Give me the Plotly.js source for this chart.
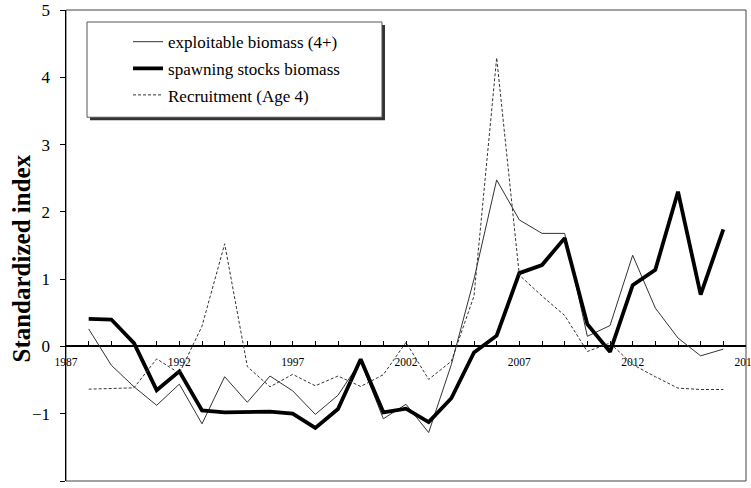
<!DOCTYPE html>
<html>
<head>
<meta charset="utf-8">
<script src="https://cdn.plot.ly/plotly-3.0.1.min.js"></script>
<style>html,body{margin:0;padding:0;background:#fff;overflow:hidden;}#chart{width:751px;height:488px;}</style>
</head>
<body>
<div id="chart"></div>
<script>
const years = [1988,1989,1990,1991,1992,1993,1994,1995,1996,1997,1998,1999,2000,2001,2002,2003,2004,2005,2006,2007,2008,2009,2010,2011,2012,2013,2014,2015,2016];
const exploitable = [0.26,-0.28,-0.6,-0.875,-0.56,-1.15,-0.45,-0.83,-0.44,-0.66,-1.01,-0.725,-0.22,-1.075,-0.86,-1.28,-0.27,1.0,2.475,1.88,1.68,1.68,0.15,0.31,1.355,0.57,0.125,-0.14,-0.04];
const ssb = [0.41,0.40,0.05,-0.65,-0.37,-0.95,-0.98,-0.98,-0.97,-1.0,-1.21,-0.93,-0.19,-0.98,-0.925,-1.125,-0.77,-0.09,0.16,1.09,1.21,1.61,0.33,-0.08,0.91,1.14,2.3,0.77,1.74];
const recruitment = [-0.635,-0.63,-0.615,-0.185,-0.4,0.3,1.525,-0.3,-0.6,-0.415,-0.585,-0.44,-0.595,-0.42,0.06,-0.49,-0.22,0.75,4.29,1.06,0.75,0.46,-0.075,0.05,-0.27,-0.45,-0.62,-0.64,-0.64];
const seriesNames = ['exploitable biomass (4+)','spawning stocks biomass','Recruitment (Age 4)'];
const xTickVals = [1987,1992,1997,2002,2007,2012,2017];
const yTickVals = [-2,-1,0,1,2,3,4,5];
const yTitle = 'Standardized index';

const serif = '"Liberation Serif", "Times New Roman", serif';
const traces = [
  {x: years, y: exploitable, name: seriesNames[0], mode: 'lines', legendgroup: 'a',
   line: {color: '#333', width: 1}},
  {x: years, y: ssb, name: seriesNames[1], mode: 'lines', legendgroup: 'b',
   line: {color: '#000', width: 3.8}},
  {x: years, y: recruitment, name: seriesNames[2], mode: 'lines', legendgroup: 'c',
   line: {color: '#333', width: 1, dash: '3px,2px'}}
];
const layout = {
  width: 751, height: 488,
  margin: {l: 66, r: 5, t: 10, b: 7},
  paper_bgcolor: '#fff', plot_bgcolor: '#fff',
  showlegend: true,
  legend: {x: 0.0912, y: 0.970, xanchor: 'left', yanchor: 'top', bgcolor: 'rgba(0,0,0,0)',
           borderwidth: 0, tracegroupgap: 1.5, font: {family: serif, size: 17, color: '#000'}},
  xaxis: {range: [1987, 2017], anchor: 'free', position: 2/7, showgrid: false, zeroline: false,
          showline: true, linecolor: '#000', linewidth: 2,
          tickmode: 'array', tickvals: xTickVals, ticktext: xTickVals.map(String),
          ticks: 'inside', ticklen: 4, tickwidth: 1, tickcolor: '#000', ticklabelstandoff: 5,
          ticklabeloverflow: 'allow',
          minor: {dtick: 1, tick0: 1987, ticks: 'inside', ticklen: 4, tickwidth: 1, tickcolor: '#000'},
          tickfont: {family: serif, size: 11.5, color: '#000'}, layer: 'below traces'},
  yaxis: {range: [-2, 5], showgrid: false, zeroline: false, showline: true, linecolor: '#000', linewidth: 1.5,
          tickmode: 'array', tickvals: yTickVals, ticks: 'outside', ticklen: 5, tickcolor: '#000',
          ticklabelstandoff: 6,
          tickfont: {family: serif, size: 17, color: '#000'}},
  annotations: [
    {text: '<b>' + yTitle + '</b>', xref: 'paper', yref: 'paper', x: (22 - 66) / 680, y: (480 - 258) / 470,
     xanchor: 'center', yanchor: 'middle', textangle: -90, showarrow: false,
     font: {family: serif, size: 25, color: '#000'}}
  ],
  shapes: [
    {type: 'rect', xref: 'paper', yref: 'paper', x0: 0, x1: 1, y0: 0, y1: 1, line: {color: '#444', width: 1}, layer: 'below'},
    {type: 'rect', xref: 'paper', yref: 'paper', x0: 0.0309 + 3/680, x1: 0.4647 + 3/680, y0: 0.7723 - 3/471, y1: 0.9745 - 3/471,
     line: {width: 0}, fillcolor: '#333', layer: 'below'},
    {type: 'rect', xref: 'paper', yref: 'paper', x0: 0.0309, x1: 0.4647, y0: 0.7723, y1: 0.9745,
     line: {color: '#555', width: 1}, fillcolor: '#fff', layer: 'below'}
  ]
};
Plotly.newPlot('chart', traces, layout, {displayModeBar: false, staticPlot: true});
</script>
</body>
</html>
